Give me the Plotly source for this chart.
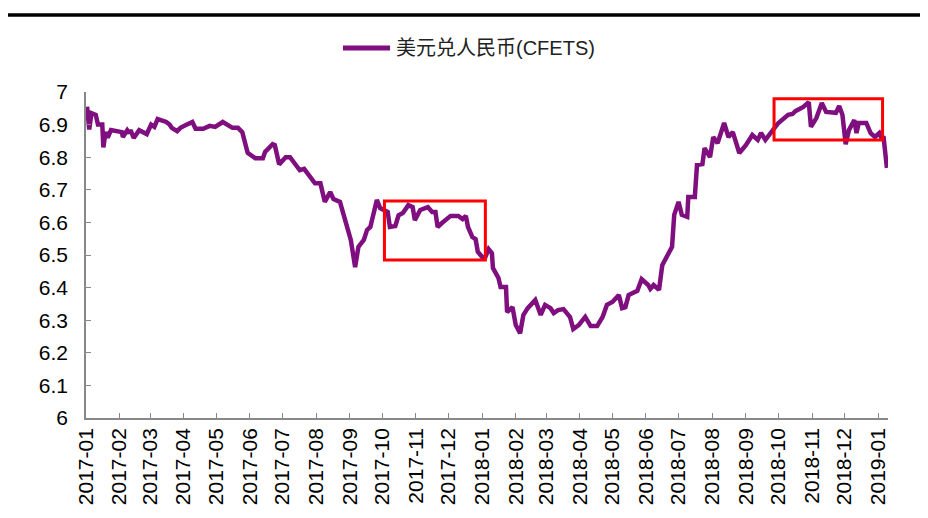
import plotly.graph_objects as go

# USD/CNY (CFETS)
dates = [
    "2017-01-02", "2017-01-04", "2017-01-06", "2017-01-10", "2017-01-12", "2017-01-16",
    "2017-01-17", "2017-01-19", "2017-01-21", "2017-01-24", "2017-02-03", "2017-02-04",
    "2017-02-08", "2017-02-10", "2017-02-11", "2017-02-14", "2017-02-19", "2017-02-26",
    "2017-03-02", "2017-03-05", "2017-03-08", "2017-03-16", "2017-03-19", "2017-03-21",
    "2017-03-26", "2017-03-29", "2017-04-04", "2017-04-09", "2017-04-12", "2017-04-19",
    "2017-04-25", "2017-04-30", "2017-05-07", "2017-05-12", "2017-05-16", "2017-05-21",
    "2017-05-25", "2017-05-30", "2017-06-06", "2017-06-13", "2017-06-15", "2017-06-22",
    "2017-06-24", "2017-06-28", "2017-07-04", "2017-07-08", "2017-07-13", "2017-07-17",
    "2017-07-21", "2017-07-27", "2017-07-31", "2017-08-05", "2017-08-09", "2017-08-14",
    "2017-08-17", "2017-08-23", "2017-08-28", "2017-09-02", "2017-09-06", "2017-09-09",
    "2017-09-14", "2017-09-17", "2017-09-20", "2017-09-26", "2017-09-29", "2017-10-06",
    "2017-10-08", "2017-10-13", "2017-10-16", "2017-10-20", "2017-10-25", "2017-10-29",
    "2017-10-31", "2017-11-05", "2017-11-12", "2017-11-16", "2017-11-19", "2017-11-21",
    "2017-11-25", "2017-11-30", "2017-12-03", "2017-12-10", "2017-12-14", "2017-12-17",
    "2017-12-19", "2017-12-23", "2017-12-26", "2017-12-28", "2018-01-01", "2018-01-04",
    "2018-01-07", "2018-01-10", "2018-01-11", "2018-01-16", "2018-01-18", "2018-01-23",
    "2018-01-24", "2018-01-29", "2018-02-01", "2018-02-05", "2018-02-08", "2018-02-12",
    "2018-02-19", "2018-02-24", "2018-02-28", "2018-03-05", "2018-03-08", "2018-03-12",
    "2018-03-17", "2018-03-23", "2018-03-26", "2018-03-31", "2018-04-06", "2018-04-11",
    "2018-04-17", "2018-04-22", "2018-04-26", "2018-05-01", "2018-05-07", "2018-05-10",
    "2018-05-13", "2018-05-16", "2018-05-21", "2018-05-24", "2018-05-28", "2018-06-03",
    "2018-06-05", "2018-06-08", "2018-06-13", "2018-06-16", "2018-06-21", "2018-06-25",
    "2018-06-27", "2018-07-01", "2018-07-04", "2018-07-09", "2018-07-10", "2018-07-16",
    "2018-07-18", "2018-07-23", "2018-07-25", "2018-07-30", "2018-08-02", "2018-08-06",
    "2018-08-12", "2018-08-16", "2018-08-20", "2018-08-26", "2018-09-01", "2018-09-07",
    "2018-09-12", "2018-09-15", "2018-09-19", "2018-09-24", "2018-10-01", "2018-10-10",
    "2018-10-14", "2018-10-17", "2018-10-24", "2018-10-29", "2018-10-31", "2018-11-05",
    "2018-11-10", "2018-11-14", "2018-11-18", "2018-11-23", "2018-11-26", "2018-11-29",
    "2018-12-02", "2018-12-05", "2018-12-10", "2018-12-12", "2018-12-14", "2018-12-21",
    "2018-12-25", "2018-12-29", "2019-01-02", "2019-01-04", "2019-01-06", "2019-01-09",
]
cny = [
    6.955, 6.885, 6.935, 6.930, 6.900, 6.900,
    6.830, 6.877, 6.860, 6.883, 6.877, 6.862,
    6.883, 6.874, 6.883, 6.859, 6.883, 6.871,
    6.900, 6.893, 6.917, 6.908, 6.900, 6.890,
    6.880, 6.890, 6.900, 6.908, 6.887, 6.887,
    6.896, 6.893, 6.908, 6.900, 6.890, 6.890,
    6.877, 6.813, 6.797, 6.797, 6.816, 6.840,
    6.837, 6.778, 6.800, 6.800, 6.776, 6.760,
    6.764, 6.740, 6.720, 6.720, 6.663, 6.693,
    6.672, 6.663, 6.598, 6.546, 6.463, 6.525,
    6.546, 6.577, 6.586, 6.669, 6.644, 6.632,
    6.586, 6.589, 6.622, 6.629, 6.653, 6.647,
    6.607, 6.638, 6.647, 6.632, 6.632, 6.586,
    6.598, 6.613, 6.620, 6.620, 6.610, 6.620,
    6.586, 6.555, 6.549, 6.510, 6.494, 6.494,
    6.518, 6.506, 6.460, 6.430, 6.402, 6.402,
    6.325, 6.340, 6.285, 6.260, 6.316, 6.337,
    6.362, 6.316, 6.347, 6.337, 6.322, 6.331,
    6.334, 6.310, 6.273, 6.285, 6.310, 6.282,
    6.282, 6.310, 6.347, 6.356, 6.377, 6.337,
    6.340, 6.377, 6.386, 6.390, 6.426, 6.408,
    6.396, 6.408, 6.393, 6.469, 6.500, 6.525,
    6.623, 6.663, 6.623, 6.617, 6.678, 6.678,
    6.776, 6.779, 6.828, 6.800, 6.862, 6.843,
    6.905, 6.862, 6.877, 6.813, 6.837, 6.868,
    6.853, 6.874, 6.853, 6.877, 6.905, 6.930,
    6.933, 6.942, 6.954, 6.969, 6.893, 6.920,
    6.966, 6.939, 6.939, 6.936, 6.957, 6.930,
    6.840, 6.883, 6.914, 6.874, 6.905, 6.905,
    6.874, 6.862, 6.874, 6.859, 6.859, 6.767,
]

series_name = "美元兑人民币(CFETS)"

# highlighted periods: [start, end, low, high]
boxes = [
    ["2017-10-03", "2018-01-04", 6.485, 6.666],
    ["2018-09-27", "2019-01-05", 6.853, 6.979],
]

PURPLE = "#7f0f7e"
FONT = "Liberation Sans, Arial, Noto Sans CJK SC, sans-serif"

fig = go.Figure()
fig.add_trace(go.Scatter(
    x=dates,
    y=cny,
    mode="lines",
    line=dict(color=PURPLE, width=4.5),
    name=series_name,
    showlegend=False,
))

for b in boxes:
    fig.add_shape(type="rect", xref="x", yref="y",
                  x0=b[0], x1=b[1], y0=b[2], y1=b[3],
                  line=dict(color="#ff0000", width=3))

# rule under the (cropped) header
fig.add_shape(type="line", xref="paper", yref="paper",
              x0=-0.1, x1=1.06, y0=1.236, y1=1.236,
              line=dict(color="black", width=3.5))

# legend drawn by hand so the key line is as long as in the original
fig.add_shape(type="line", xref="paper", yref="paper",
              x0=0.3204, x1=0.3791, y0=1.135, y1=1.135,
              line=dict(color=PURPLE, width=5))
fig.add_annotation(xref="paper", yref="paper", x=0.384, y=1.135,
                   xanchor="left", yanchor="middle", showarrow=False,
                   text=series_name, font=dict(size=20, color="#222222"))

fig.update_layout(
    width=928,
    height=518,
    margin=dict(l=78, r=48, t=84, b=108),
    paper_bgcolor="white",
    plot_bgcolor="white",
    font=dict(family=FONT, size=21, color="black"),
    showlegend=False,
    xaxis=dict(
        type="date",
        range=["2017-01-01", "2019-01-10"],
        dtick="M1",
        tick0="2017-01-01",
        tickformat="%Y-%m",
        tickangle=-90,
        ticks="inside",
        ticklen=5,
        tickcolor="#888888",
        showline=True,
        linecolor="#888888",
        linewidth=1.5,
        showgrid=False,
        zeroline=False,
        tickfont=dict(size=21),
    ),
    yaxis=dict(
        range=[6, 7],
        dtick=0.1,
        tickformat="~g",
        ticks="inside",
        ticklen=5,
        tickcolor="#888888",
        showline=True,
        linecolor="#888888",
        linewidth=1.5,
        showgrid=False,
        zeroline=False,
        ticklabelstandoff=12,
        tickfont=dict(size=21),
    ),
)

fig.write_html("out.html")
